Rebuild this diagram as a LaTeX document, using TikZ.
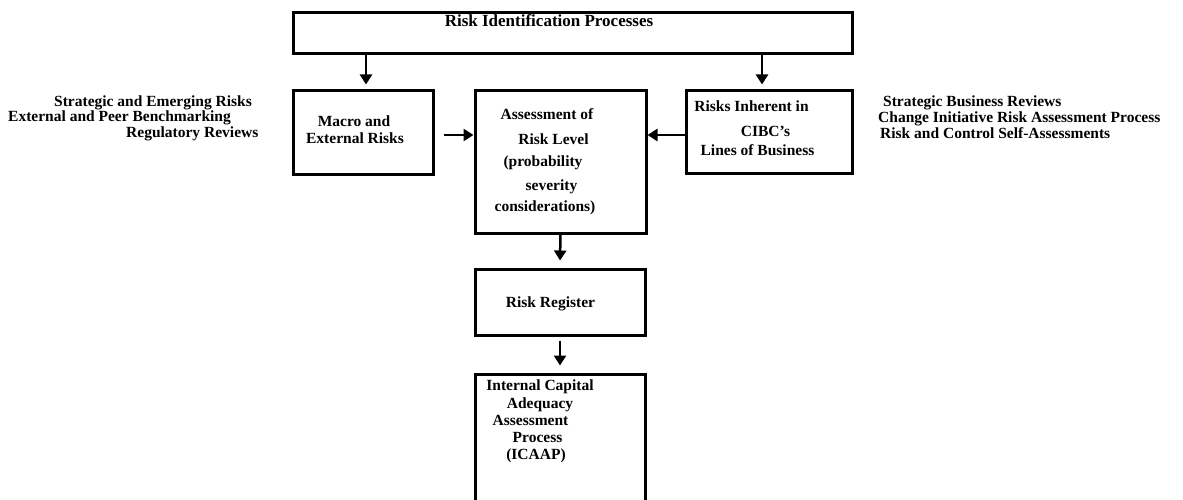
\documentclass[tikz,border=0pt]{standalone}
\usepackage{fontspec}
\setmainfont{Liberation Serif}
\usetikzlibrary{calc, arrows.meta}

\begin{document}
\begin{tikzpicture}[x=1pt, y=-1pt,
	box/.style={draw, line width=3pt, inner sep=0pt},
	arr/.style={line width=2.5pt, -{Triangle[length=10pt, width=12pt]}},
	txt/.style={anchor=base, font=\fontsize{15.5}{18}\selectfont\bfseries, inner sep=0pt},
	sidetxt/.style={anchor=base west, font=\fontsize{15.5}{18}\selectfont\bfseries, inner sep=0pt}]
	\useasboundingbox (0,0) rectangle (1183,500);
	\clip (0,0) rectangle (1183,500);
	
	% boxes
	\node (top) at (572.5,33.5) [box, minimum width=559pt, minimum height=41pt] {};
	\node (macro) at (363,132.5) [box, minimum width=140pt, minimum height=83pt] {};
	\node (assess) at (560.5,162) [box, minimum width=171pt, minimum height=142pt] {};
	\node (lob) at (769,132) [box, minimum width=166pt, minimum height=82pt] {};
	\node (reg) at (560,302) [box, minimum width=170pt, minimum height=66pt] {};
	\node (icaap) at (560,447) [box, minimum width=170pt, minimum height=146pt] {};
	%bottom of icaap box runs off the page
	
	% box texts
	\node (toptxt) at (549,27) [txt, font=\fontsize{17}{19}\selectfont\bfseries] {Risk Identification Processes};
	\node (macro1) at (354,127) [txt] {Macro and};
	\node (macro2) at (355,143) [txt] {External Risks};
	\node (assess1) at (547,120) [txt] {Assessment of};
	\node (assess2) at (553.5,144) [txt] {Risk Level};
	\node (assess3) at (543,167) [txt] {(probability};
	\node (assess4) at (551.5,190) [txt] {severity};
	\node (assess5) at (545,211) [txt] {considerations)};
	\node (lob1) at (751.5,112) [txt] {Risks Inherent in};
	\node (lob2) at (765.5,137) [txt] {CIBC's};
	\node (lob3) at (757.5,155) [txt] {Lines of Business};
	\node (regtxt) at (550.5,307) [txt] {Risk Register};
	\node (icaap1) at (540,390) [txt] {Internal Capital};
	\node (icaap2) at (540,408) [txt] {Adequacy};
	\node (icaap3) at (530.5,425) [txt] {Assessment};
	\node (icaap4) at (537.5,442) [txt] {Process};
	\node (icaap5) at (536,459) [txt] {(ICAAP)};
	
	% side lists
	\foreach \x/\y/\t [count=\i] in {54/107/Strategic and Emerging Risks, 8/122/External and Peer Benchmarking, 126/138/Regulatory Reviews} {
		\node (left\i) at (\x,\y) [sidetxt] {\t};
	}
	\foreach \x/\y/\t [count=\i] in {883/107/Strategic Business Reviews, 878/123/Change Initiative Risk Assessment Process, 880/139/Risk and Control Self-Assessments} {
		\node (right\i) at (\x,\y) [sidetxt] {\t};
	}
	
	% arrows
	\coordinate (macroin) at ([xshift=3pt, yshift=5pt]macro.north);
	\coordinate (lobin) at ([xshift=-7pt, yshift=5pt]lob.north);
	\coordinate (macroout) at ([xshift=9pt, yshift=-2.5pt]macro.east);
	\coordinate (lobout) at ([yshift=-3pt]lob.west);
	\draw [arr] (macroin |- top.south) -- (macroin);
	\draw [arr] (lobin |- top.south) -- (lobin);
	\draw [arr] (macroout) -- (macroout -| assess.west);
	\draw [arr] (lobout) -- (lobout -| assess.east);
	\draw [arr] (assess.south) -- ([yshift=7pt]reg.north);
	\draw [arr] ([yshift=-4pt]reg.south) -- ([yshift=7pt]icaap.north);
\end{tikzpicture}
\end{document}
